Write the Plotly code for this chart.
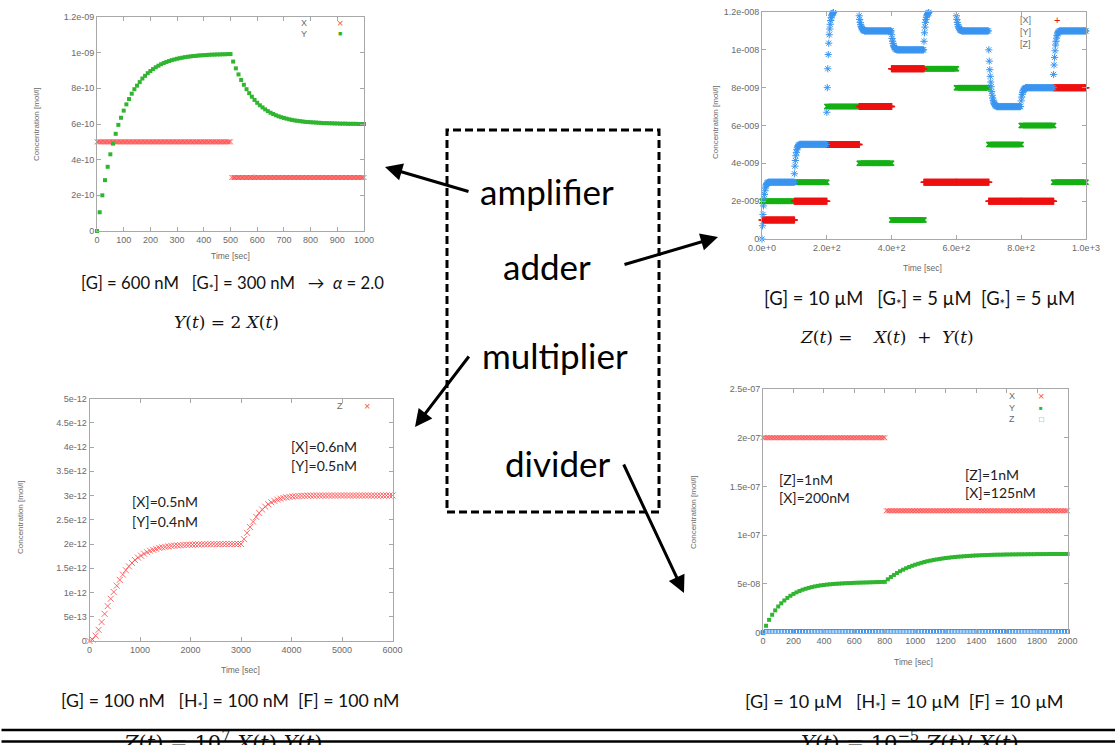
import plotly.graph_objects as go

W, H = 1116, 745

# ---------------- amplifier data ----------------
amp_y_times = list(range(0, 1001, 10))
amp_y_vals_e10 = [0, 1.05, 2.0, 2.85, 3.6, 4.3, 4.9, 5.45, 5.95, 6.35, 6.75, 7.1, 7.4, 7.7, 7.95, 8.15,
                  8.35, 8.55, 8.7, 8.85, 8.97, 9.08, 9.18, 9.27, 9.35, 9.42, 9.48, 9.53, 9.58, 9.62,
                  9.66, 9.69, 9.72, 9.75, 9.77, 9.79, 9.81, 9.82, 9.84, 9.85, 9.86, 9.87, 9.88, 9.89,
                  9.89, 9.9, 9.9, 9.91, 9.91, 9.92, 9.92,
                  9.5, 9.12, 8.78, 8.47, 8.2, 7.95, 7.73, 7.53, 7.35, 7.19, 7.05, 6.93, 6.82, 6.72,
                  6.63, 6.56, 6.49, 6.43, 6.38, 6.34, 6.3, 6.26, 6.23, 6.2, 6.18, 6.16, 6.14, 6.12,
                  6.11, 6.1, 6.09, 6.08, 6.07, 6.06, 6.05, 6.05, 6.04, 6.04, 6.03, 6.03, 6.02, 6.02,
                  6.02, 6.01, 6.01, 6.01, 6.01, 6.0, 6.0, 6.0]
amp_x_segments = [(0, 500, 5e-10), (505, 1000, 3e-10)]   # (start, end, level) of input X
amp_x_step = 5

# ---------------- adder data ----------------
adder_step_times = [0, 100, 200, 300, 400, 500, 600, 700, 800, 900]
adder_x_levels_e9 = [1, 2, 5, 7, 9, 3, 3, 2, 2, 8]
adder_y_levels_e9 = [2, 3, 7, 4, 1, 9, 8, 5, 6, 3]
adder_z_levels_e9 = [3, 5, 12, 11, 10, 12, 11, 7, 8, 11]
adder_z_transients_e9 = [
    [0, 0.7, 1.3, 1.75, 2.1, 2.35, 2.55, 2.7, 2.8, 2.88, 2.93, 2.96, 2.98],
    [3.45, 3.85, 4.15, 4.4, 4.58, 4.72, 4.82, 4.88, 4.93, 4.96, 4.98],
    [6.7, 8.0, 9.0, 9.75, 10.35, 10.8, 11.1, 11.35, 11.55, 11.7, 11.8, 11.87, 11.92, 11.95, 11.97],
    [11.8, 11.6, 11.45, 11.33, 11.24, 11.17, 11.12, 11.08, 11.05, 11.03, 11.02],
    [10.8, 10.6, 10.45, 10.33, 10.24, 10.17, 10.12, 10.08, 10.05, 10.03, 10.02],
    [10.45, 10.9, 11.2, 11.45, 11.6, 11.72, 11.8, 11.87, 11.92, 11.95, 11.97],
    [11.8, 11.6, 11.45, 11.33, 11.24, 11.17, 11.12, 11.08, 11.05, 11.03, 11.02],
    [10.0, 9.4, 8.95, 8.6, 8.3, 8.05, 7.8, 7.6, 7.45, 7.33, 7.24, 7.17, 7.12, 7.08, 7.05, 7.03],
    [7.3, 7.5, 7.65, 7.75, 7.83, 7.88, 7.92, 7.95, 7.97],
    [8.7, 9.2, 9.6, 9.95, 10.25, 10.45, 10.62, 10.75, 10.84, 10.9, 10.94, 10.97],
]
adder_end = 1000

# ---------------- multiplier data ----------------
mul_times = list(range(0, 6001, 60))
mul_z_e12 = [0, 0.03, 0.11, 0.23, 0.39, 0.56, 0.72, 0.87, 1.01, 1.14, 1.26, 1.37, 1.46, 1.54, 1.61,
             1.67, 1.72, 1.76, 1.8, 1.83, 1.86, 1.88, 1.9, 1.92, 1.93, 1.94, 1.95, 1.96, 1.965, 1.97,
             1.975, 1.98, 1.983, 1.986, 1.988, 1.99, 1.992, 1.993, 1.994, 1.995, 1.996, 1.997, 1.997,
             1.998, 1.998, 1.998, 1.999, 1.999, 1.999, 2.0, 2.0,
             2.1, 2.23, 2.35, 2.46, 2.56, 2.64, 2.71, 2.77, 2.82, 2.86, 2.89, 2.915, 2.935, 2.95,
             2.962, 2.972, 2.98, 2.985, 2.989, 2.992, 2.994, 2.996, 2.997, 2.998, 2.998, 2.999, 2.999,
             2.999, 3.0, 3.0, 3.0, 3.0, 3.0, 3.0, 3.0, 3.0, 3.0, 3.0, 3.0, 3.0, 3.0, 3.0, 3.0, 3.0,
             3.0, 3.0, 3.0, 3.0, 3.0, 3.0]

# ---------------- divider data ----------------
div_times = list(range(0, 2001, 20))
div_y_e8 = [0, 0.69, 1.3, 1.82, 2.27, 2.67, 3.0, 3.29, 3.55, 3.77, 3.96, 4.12, 4.26, 4.39, 4.49,
            4.58, 4.66, 4.73, 4.79, 4.84, 4.88, 4.92, 4.95, 4.98, 5.0, 5.02, 5.04, 5.06, 5.07, 5.08,
            5.1, 5.11, 5.12, 5.13, 5.14, 5.15, 5.16, 5.17, 5.18, 5.19, 5.2,
            5.46, 5.7, 5.91, 6.11, 6.29, 6.45, 6.6, 6.73, 6.85, 6.96, 7.06, 7.15, 7.24, 7.32, 7.38,
            7.45, 7.5, 7.55, 7.6, 7.65, 7.68, 7.72, 7.75, 7.78, 7.8, 7.83, 7.85, 7.87, 7.89, 7.91,
            7.92, 7.94, 7.95, 7.96, 7.97, 7.98, 7.99, 7.99, 8.0, 8.01, 8.01, 8.02, 8.02, 8.03, 8.03,
            8.03, 8.04, 8.04, 8.04, 8.05, 8.05, 8.05, 8.05, 8.06, 8.06, 8.06, 8.06, 8.06, 8.06, 8.06]
div_x_segments = [(0, 800, 2e-7), (810, 2000, 1.25e-7)]
div_x_step = 10
div_z_level = 1e-9

# ---------------- helpers ----------------
def px(x):
    return x / W


def py(y):
    return 1 - y / H


def seg_points(segments, step):
    t, v = [], []
    for a, b, lev in segments:
        k = a
        while k <= b:
            t.append(k)
            v.append(lev)
            k += step
    return t, v


fig = go.Figure()

RED_LIGHT = "rgba(255,70,70,0.8)"
GREEN = "#2fb52f"
BLUE = "#3a95f0"

# amplifier traces
ax_t, ax_v = seg_points(amp_x_segments, amp_x_step)
fig.add_trace(go.Scatter(x=ax_t, y=ax_v, mode="markers", name="X", xaxis="x", yaxis="y",
                         marker=dict(symbol="x-thin-open", size=5, color=RED_LIGHT, line=dict(width=1)),
                         cliponaxis=False))
fig.add_trace(go.Scatter(x=amp_y_times, y=[v * 1e-10 for v in amp_y_vals_e10], mode="markers", name="Y",
                         xaxis="x", yaxis="y",
                         marker=dict(symbol="square", size=4, color=GREEN, line=dict(width=0)), cliponaxis=False))

# adder traces
def level_series(levels, step):
    t, v = [], []
    for i, s in enumerate(adder_step_times):
        e = adder_step_times[i + 1] if i + 1 < len(adder_step_times) else adder_end
        k = s
        while k <= e:
            t.append(k)
            v.append(levels[i] * 1e-9)
            k += step
    return t, v


adx_t, adx_v = level_series(adder_x_levels_e9, 2)
ady_t, ady_v = level_series(adder_y_levels_e9, 2)
adz_t, adz_v = [], []
for i, s in enumerate(adder_step_times):
    e = adder_step_times[i + 1] if i + 1 < len(adder_step_times) else adder_end
    tr = adder_z_transients_e9[i]
    for k, val in enumerate(tr):
        adz_t.append(s + 1.5 * k)
        adz_v.append(val * 1e-9)
    k = s + 1.5 * len(tr)
    while k < e:
        adz_t.append(k)
        adz_v.append(adder_z_levels_e9[i] * 1e-9)
        k += 2
adz_t.append(adder_end)
adz_v.append(adder_z_levels_e9[-1] * 1e-9)

fig.add_trace(go.Scatter(x=ady_t, y=ady_v, mode="markers", name="[Y]", xaxis="x2", yaxis="y2",
                         marker=dict(symbol="x-thin-open", size=5, color="#15b015", line=dict(width=1.5)),
                         cliponaxis=False))
fig.add_trace(go.Scatter(x=adx_t, y=adx_v, mode="markers", name="[X]", xaxis="x2", yaxis="y2",
                         marker=dict(symbol="cross-thin-open", size=5, color="#ee1010", line=dict(width=1.5)),
                         cliponaxis=False))
fig.add_trace(go.Scatter(x=adz_t, y=adz_v, mode="markers", name="[Z]", xaxis="x2", yaxis="y2",
                         marker=dict(symbol="asterisk-open", size=6, color=BLUE, line=dict(width=1)),
                         cliponaxis=False))

# multiplier trace
fig.add_trace(go.Scatter(x=mul_times, y=[v * 1e-12 for v in mul_z_e12], mode="markers", name="Z",
                         xaxis="x3", yaxis="y3",
                         marker=dict(symbol="x-thin-open", size=6, color=RED_LIGHT, line=dict(width=1)),
                         cliponaxis=False))

# divider traces
dx_t, dx_v = seg_points(div_x_segments, div_x_step)
fig.add_trace(go.Scatter(x=dx_t, y=dx_v, mode="markers", name="X", xaxis="x4", yaxis="y4",
                         marker=dict(symbol="x-thin-open", size=5, color=RED_LIGHT, line=dict(width=1)),
                         cliponaxis=False))
fig.add_trace(go.Scatter(x=div_times, y=[v * 1e-8 for v in div_y_e8], mode="markers", name="Y",
                         xaxis="x4", yaxis="y4",
                         marker=dict(symbol="square", size=4, color=GREEN, line=dict(width=0)), cliponaxis=False))
fig.add_trace(go.Scatter(x=div_times, y=[0] + [div_z_level] * (len(div_times) - 1), mode="markers", name="Z",
                         xaxis="x4", yaxis="y4",
                         marker=dict(symbol="square-open", size=4, color=BLUE, line=dict(width=1)),
                         cliponaxis=False))

# ---------------- axes ----------------
TICKFONT = dict(family="Liberation Sans, Arial", size=9, color="#6a6a6a")
LINEC = "#a8a8a8"


def axis(domain, rng, vals, texts, anchor):
    return dict(domain=domain, range=rng, anchor=anchor, showline=True, linecolor=LINEC, linewidth=1,
                mirror="allticks", ticks="inside", ticklen=4, tickcolor=LINEC, tickvals=vals,
                ticktext=texts, tickfont=TICKFONT, showgrid=False, zeroline=False, fixedrange=True)


plots = {
    1: dict(x=(97, 364), y=(17, 231)),
    2: dict(x=(762, 1086), y=(12, 239)),
    3: dict(x=(89.5, 392.5), y=(398.5, 641)),
    4: dict(x=(763, 1067.5), y=(389, 632.5)),
}

amp_xt = list(range(0, 1001, 100))
amp_yt = [0, 2e-10, 4e-10, 6e-10, 8e-10, 1e-9, 1.2e-9]
amp_yl = ["0", "2e-10", "4e-10", "6e-10", "8e-10", "1e-09", "1.2e-09"]
add_xt = [0, 200, 400, 600, 800, 1000]
add_xl = ["0.0e+0", "2.0e+2", "4.0e+2", "6.0e+2", "8.0e+2", "1.0e+3"]
add_yt = [0, 2e-9, 4e-9, 6e-9, 8e-9, 1e-8, 1.2e-8]
add_yl = ["0", "2e-009", "4e-009", "6e-009", "8e-009", "1e-008", "1.2e-008"]
mul_xt = list(range(0, 6001, 1000))
mul_yt = [0, 5e-13, 1e-12, 1.5e-12, 2e-12, 2.5e-12, 3e-12, 3.5e-12, 4e-12, 4.5e-12, 5e-12]
mul_yl = ["0", "5e-13", "1e-12", "1.5e-12", "2e-12", "2.5e-12", "3e-12", "3.5e-12", "4e-12", "4.5e-12", "5e-12"]
div_xt = list(range(0, 2001, 200))
div_yt = [0, 5e-8, 1e-7, 1.5e-7, 2e-7, 2.5e-7]
div_yl = ["0", "5e-08", "1e-07", "1.5e-07", "2e-07", "2.5e-07"]


def xd(i):
    a, b = plots[i]["x"]
    return [px(a), px(b)]


def yd(i):
    a, b = plots[i]["y"]
    return [py(b), py(a)]


layout = dict(
    width=W, height=H, margin=dict(l=0, r=0, t=0, b=0, autoexpand=False),
    paper_bgcolor="white", plot_bgcolor="white", showlegend=False,
    xaxis=axis(xd(1), [0, 1000], amp_xt, [str(v) for v in amp_xt], "y"),
    yaxis=axis(yd(1), [0, 1.2e-9], amp_yt, amp_yl, "x"),
    xaxis2=axis(xd(2), [0, 1000], add_xt, add_xl, "y2"),
    yaxis2=axis(yd(2), [0, 1.2e-8], add_yt, add_yl, "x2"),
    xaxis3=axis(xd(3), [0, 6000], mul_xt, [str(v) for v in mul_xt], "y3"),
    yaxis3=axis(yd(3), [0, 5e-12], mul_yt, mul_yl, "x3"),
    xaxis4=axis(xd(4), [0, 2000], div_xt, [str(v) for v in div_xt], "y4"),
    yaxis4=axis(yd(4), [0, 2.5e-7], div_yt, div_yl, "x4"),
)
fig.update_layout(**layout)

ann = []


def text(x, y, s, size=12, color="black", family="Lato", xanchor="center", angle=0):
    ann.append(dict(x=px(x), y=py(y), xref="paper", yref="paper", text=s, showarrow=False,
                    xanchor=xanchor, yanchor="middle", textangle=angle,
                    font=dict(size=size, color=color, family=family)))


AXF = "Liberation Sans, Arial"
# axis titles
text(230, 256, "Time [sec]", 8.5, "#6a6a6a", AXF)
text(37, 125, "Concentration [mol/l]", 8, "#6a6a6a", AXF, angle=-90)
text(922, 268, "Time [sec]", 8.5, "#6a6a6a", AXF)
text(716, 122, "Concentration [mol/l]", 8, "#6a6a6a", AXF, angle=-90)
text(240, 670, "Time [sec]", 8.5, "#6a6a6a", AXF)
text(20, 518, "Concentration [mol/l]", 8, "#6a6a6a", AXF, angle=-90)
text(913, 662, "Time [sec]", 8.5, "#6a6a6a", AXF)
text(693, 513, "Concentration [mol/l]", 8, "#6a6a6a", AXF, angle=-90)

# legend keys (text + glyph)
LG = "#6a6a6a"
text(309, 23, "X", 9, LG, AXF, xanchor="right")
text(340, 23, "×", 11, "#ff5050", AXF)
text(309, 34, "Y", 9, LG, AXF, xanchor="right")
text(340, 34, "■", 7, GREEN, AXF)
text(1033, 20, "[X]", 9, LG, AXF, xanchor="right")
text(1057, 20, "+", 11, "#ee1010", AXF)
text(1033, 32, "[Y]", 9, LG, AXF, xanchor="right")
text(1033, 44, "[Z]", 9, LG, AXF, xanchor="right")
text(345, 406, "Z", 9, LG, AXF, xanchor="right")
text(367, 406, "×", 11, "#ff5050", AXF)
text(1017, 396, "X", 9, LG, AXF, xanchor="right")
text(1041, 396, "×", 11, "#ff5050", AXF)
text(1017, 408, "Y", 9, LG, AXF, xanchor="right")
text(1041, 408, "■", 6, GREEN, AXF)
text(1017, 419, "Z", 9, LG, AXF, xanchor="right")
text(1041, 419, "□", 8, BLUE, AXF)

# in-plot notes
NF = "Lato"
text(130, 501, "[X]=0.5nM", 14, "#222", NF, xanchor="left")
text(130, 521, "[Y]=0.4nM", 14, "#222", NF, xanchor="left")
text(289, 446, "[X]=0.6nM", 14, "#222", NF, xanchor="left")
text(289, 465, "[Y]=0.5nM", 14, "#222", NF, xanchor="left")
text(777, 479, "[Z]=1nM", 14, "#222", NF, xanchor="left")
text(777, 497, "[X]=200nM", 14, "#222", NF, xanchor="left")
text(963, 474, "[Z]=1nM", 14, "#222", NF, xanchor="left")
text(963, 492, "[X]=125nM", 14, "#222", NF, xanchor="left")

# centre labels
text(547, 191, "amplifier", 35)
text(547, 266, "adder", 35)
text(555, 355, "multiplier", 35)
text(558, 463, "divider", 35)

# captions
SERIF = "DejaVu Serif"
NB = "\u00a0"
text(232, 284, "[G] = 600 nM" + NB * 2 + " [G<sub>*</sub>] = 300 nM" + NB * 2 + " →  <i>α</i> = 2.0", 16.7, "#111")
text(226, 322, "<i>Y</i>(<i>t</i>) = 2 <i>X</i>(<i>t</i>)", 17, "#111", SERIF)
text(919, 299, "[G] = 10 µM" + NB * 2 + " [G<sub>*</sub>] = 5 µM" + NB + " [G<sub>*</sub>] = 5 µM", 18.4, "#111")
text(887, 337, "<i>Z</i>(<i>t</i>) =" + NB * 4 + "<i>X</i>(<i>t</i>)" + NB * 2 + "+" + NB * 2 + "<i>Y</i>(<i>t</i>)",
     17, "#111", SERIF)
text(230, 702, "[G] = 100 nM" + NB * 2 + " [H<sub>*</sub>] = 100 nM" + NB + " [F] = 100 nM", 17.7, "#111")
text(222, 741, "<i>Z</i>(<i>t</i>) = 10<sup>7</sup> <i>X</i>(<i>t</i>) <i>Y</i>(<i>t</i>)", 21, "#111", SERIF)
text(904, 702, "[G] = 10 µM" + NB * 2 + " [H<sub>*</sub>] = 10 µM" + NB + " [F] = 10 µM", 18, "#111")
text(910, 741, "<i>Y</i>(<i>t</i>) = 10<sup>−5</sup> <i>Z</i>(<i>t</i>)/ <i>X</i>(<i>t</i>)", 21, "#111", SERIF)


def arrow(hx, hy, tx, ty, head=2, width=3, size=1.15):
    ann.append(dict(x=px(hx), y=py(hy), xref="paper", yref="paper", text="", showarrow=True,
                    axref="pixel", ayref="pixel", ax=tx - hx, ay=ty - hy, arrowhead=head,
                    arrowsize=size, arrowwidth=width, arrowcolor="black", standoff=0, startstandoff=0))


arrow(385, 167, 470, 192)
arrow(718, 237, 623, 265)
arrow(415, 427, 470, 355)
arrow(684, 593, 623, 463)
# bottom rules drawn over the last equations
arrow(1116, 730, 0, 730, head=0, width=2.5, size=1)
arrow(1116, 741.5, 0, 741.5, head=0, width=2.5, size=1)

fig.update_layout(annotations=ann)

fig.add_shape(type="rect", xref="paper", yref="paper", x0=px(447), x1=px(659), y0=py(512), y1=py(130),
              line=dict(color="black", width=3, dash="8px,4px"))

fig.write_html("out.html", config={"displayModeBar": False},
               post_script="document.body.style.margin='0px';")
